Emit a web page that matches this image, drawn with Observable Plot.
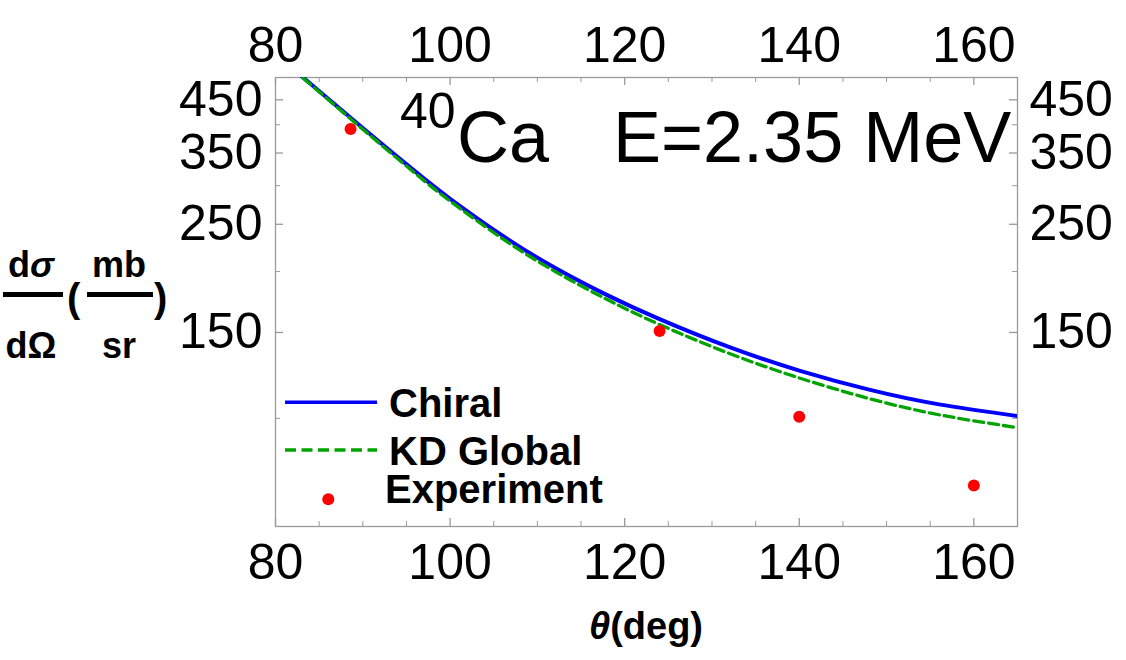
<!DOCTYPE html>
<html>
<head>
<meta charset="utf-8">
<script src="https://cdn.jsdelivr.net/npm/d3@7"></script>
<script src="https://cdn.jsdelivr.net/npm/@observablehq/plot@0.6"></script>
<style>
  html, body { margin: 0; padding: 0; background: #fff; }
  #chart { width: 1126px; height: 660px; }
</style>
</head>
<body>
<div id="chart"></div>
<script>
// Scattering angle grid (deg) for the two optical-model curves
const angle = [82, 83, 88, 90, 96, 100, 106, 112, 118, 124, 132, 140, 148, 156, 165];
// dσ/dΩ (mb/sr) — chiral potential
const chiral = [520.6, 502.9, 422.2, 393.8, 320.9, 282.0, 236.9, 203.6, 178.9, 159.7, 139.9, 125.3, 114.5, 106.8, 101.1];
// dσ/dΩ (mb/sr) — Koning–Delaroche global potential
const kdGlobal = [519.0, 501.4, 420.2, 391.5, 318.0, 279.0, 233.6, 200.2, 175.2, 155.7, 135.8, 121.0, 109.8, 101.7, 95.7];
// Measured cross sections
const expAngle = [88.6, 124, 140, 160];
const expValue = [392, 151, 100.8, 72.8];

// Axis ticks
const xTickLabels = [80, 100, 120, 140, 160];
const xMinorTicks = [85, 90, 95, 105, 110, 115, 125, 130, 135, 145, 150, 155, 165];
const yTickLabels = [150, 250, 350, 450];
const yMinorTicks = [100, 200, 300, 400];

const W = 1126, H = 660;
const M = {top: 77, right: 109, bottom: 134, left: 275};
const frameW = W - M.left - M.right;
const frameH = H - M.top - M.bottom;
const tickGray = "#9a9a9a";

const chiralRows = angle.map((a, i) => ({a, v: chiral[i]}));
const kdRows = angle.map((a, i) => ({a, v: kdGlobal[i]}));
const expRows = expAngle.map((a, i) => ({a, v: expValue[i]}));

const chart = Plot.plot({
  width: W,
  height: H,
  marginTop: M.top,
  marginRight: M.right,
  marginBottom: M.bottom,
  marginLeft: M.left,
  style: {fontFamily: "Liberation Sans, Arial, sans-serif", fontSize: "50px", background: "#fff", color: "#000"},
  x: {domain: [80, 165]},
  y: {type: "log", domain: [60, 500]},
  marks: [
    Plot.frame({stroke: tickGray, strokeWidth: 1.3}),
    // inward frame ticks
    Plot.tickX(xTickLabels, {x: d => d, insetTop: frameH - 8, stroke: tickGray, strokeWidth: 1.3}),
    Plot.tickX(xTickLabels, {x: d => d, insetBottom: frameH - 8, stroke: tickGray, strokeWidth: 1.3}),
    Plot.tickX(xMinorTicks, {x: d => d, insetTop: frameH - 5, stroke: tickGray, strokeWidth: 1}),
    Plot.tickX(xMinorTicks, {x: d => d, insetBottom: frameH - 5, stroke: tickGray, strokeWidth: 1}),
    Plot.tickY(yTickLabels, {y: d => d, insetRight: frameW - 8, stroke: tickGray, strokeWidth: 1.3}),
    Plot.tickY(yTickLabels, {y: d => d, insetLeft: frameW - 8, stroke: tickGray, strokeWidth: 1.3}),
    Plot.tickY(yMinorTicks, {y: d => d, insetRight: frameW - 5, stroke: tickGray, strokeWidth: 1}),
    Plot.tickY(yMinorTicks, {y: d => d, insetLeft: frameW - 5, stroke: tickGray, strokeWidth: 1}),
    // tick labels on all four sides
    Plot.axisX({anchor: "bottom", ticks: xTickLabels, tickSize: 0, tickPadding: 17, fontSize: 50, tickFormat: d => String(d), label: null}),
    Plot.axisX({anchor: "top", ticks: xTickLabels, tickSize: 0, tickPadding: 16, fontSize: 50, tickFormat: d => String(d), label: null}),
    Plot.axisY({anchor: "left", ticks: yTickLabels, tickSize: 0, tickPadding: 13, fontSize: 50, tickFormat: d => String(d), label: null}),
    Plot.axisY({anchor: "right", ticks: yTickLabels, tickSize: 0, tickPadding: 12, fontSize: 50, tickFormat: d => String(d), label: null}),
    // curves and data
    Plot.line(chiralRows, {x: "a", y: "v", stroke: "#0000ff", strokeWidth: 4, curve: "natural", clip: true}),
    Plot.line(kdRows, {x: "a", y: "v", stroke: "#00a300", strokeWidth: 3.3, strokeDasharray: "10,5", curve: "natural", clip: true}),
    Plot.dot(expRows, {x: "a", y: "v", r: 6, fill: "#ff0000", stroke: null})
  ]
});
document.getElementById("chart").appendChild(chart);

const svg = d3.select(chart);
const font = "Liberation Sans, Arial, sans-serif";

// Title inside the frame: nucleus and beam energy
const title = svg.append("text").attr("font-family", font).attr("fill", "#000").attr("text-anchor", "start");
title.append("tspan").attr("x", 400).attr("y", 128).attr("font-size", 50).text("40");
title.append("tspan").attr("x", 457).attr("y", 162).attr("font-size", 72).text("Ca");
title.append("tspan").attr("x", 613).attr("y", 162).attr("font-size", 72).text("E=2.35 MeV");

// Legend
const lg = svg.append("g").attr("font-family", font).attr("font-weight", "bold").attr("font-size", 40)
  .attr("fill", "#000").attr("text-anchor", "start");
lg.append("line").attr("x1", 285).attr("x2", 377).attr("y1", 402.3).attr("y2", 402.3)
  .attr("stroke", "#0000ff").attr("stroke-width", 3.5);
lg.append("text").attr("x", 389).attr("y", 417).text("Chiral");
lg.append("line").attr("x1", 285).attr("x2", 377).attr("y1", 450).attr("y2", 450)
  .attr("stroke", "#00a300").attr("stroke-width", 3.5).attr("stroke-dasharray", "11,5.5");
lg.append("text").attr("x", 389).attr("y", 465).text("KD Global");
lg.append("circle").attr("cx", 328.3).attr("cy", 499.3).attr("r", 6).attr("fill", "#ff0000");
lg.append("text").attr("x", 385).attr("y", 503).text("Experiment");

// y-axis label: dσ/dΩ (mb/sr) as stacked fractions
const yl = svg.append("g").attr("font-family", font).attr("font-weight", "bold").attr("fill", "#000");
const num1 = yl.append("text").attr("x", 31).attr("y", 277).attr("font-size", 36).attr("text-anchor", "middle");
num1.append("tspan").text("d");
num1.append("tspan").attr("font-style", "italic").text("σ");
yl.append("line").attr("x1", 3).attr("x2", 63).attr("y1", 294.5).attr("y2", 294.5).attr("stroke", "#000").attr("stroke-width", 5);
yl.append("text").attr("x", 31).attr("y", 358).attr("font-size", 36).attr("text-anchor", "middle").text("dΩ");
yl.append("text").attr("x", 67).attr("y", 312).attr("font-size", 40).attr("text-anchor", "start").text("(");
yl.append("text").attr("x", 119).attr("y", 277).attr("font-size", 36).attr("text-anchor", "middle").text("mb");
yl.append("line").attr("x1", 87).attr("x2", 153).attr("y1", 294.5).attr("y2", 294.5).attr("stroke", "#000").attr("stroke-width", 5);
yl.append("text").attr("x", 119).attr("y", 358).attr("font-size", 36).attr("text-anchor", "middle").text("sr");
yl.append("text").attr("x", 154).attr("y", 312).attr("font-size", 40).attr("text-anchor", "start").text(")");

// x-axis label
const xl = svg.append("text").attr("font-family", font).attr("font-weight", "bold").attr("font-size", 38)
  .attr("fill", "#000").attr("x", 646).attr("y", 639).attr("text-anchor", "middle");
xl.append("tspan").attr("font-style", "italic").text("θ");
xl.append("tspan").text("(deg)");
</script>
</body>
</html>
